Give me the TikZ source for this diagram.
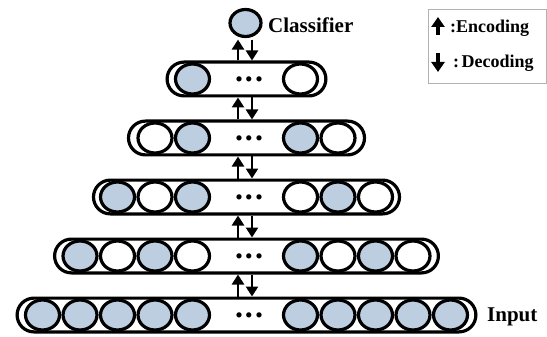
\documentclass[tikz,border=0pt]{standalone}
\usepackage{fontspec}
\setmainfont{Liberation Serif}
\usetikzlibrary{shapes.geometric,arrows.meta}
\definecolor{nodeblue}{RGB}{190,206,225}
\begin{document}
\begin{tikzpicture}[x=1pt,y=-1pt,
  layer/.style={draw,line width=3.2pt,rounded corners=16.9pt,minimum height=33.8pt,inner sep=0pt},
  unit/.style={draw,ellipse,line width=3.2pt,minimum width=34pt,minimum height=30pt,inner sep=0pt},
  on/.style={unit,fill=nodeblue},
  off/.style={unit,fill=white},
  flow/.style={line width=2.8pt,-{Triangle[width=12pt,length=10pt]}},
  legarr/.style={line width=3.2pt,-{Triangle[width=13pt,length=10pt]}},
  lbl/.style={font=\fontsize{21}{21}\selectfont\bfseries,inner sep=0pt},
  leglbl/.style={font=\fontsize{18}{18}\selectfont\bfseries,inner sep=0pt},
  dotsnode/.style={font=\fontsize{32}{32}\selectfont\bfseries,inner sep=0pt}]
\useasboundingbox (0,0) rectangle (547,337);
\def\X{246.5}
% row 5 (input)
\node[layer,minimum width=458.8pt] (r5) at (\X,315) {};
\foreach \k/\s in {0/on,1/on,2/on,3/on,4/on} \node[\s] (c5l\k) at (\X-54-37.5*\k,315) {};
\foreach \k/\s in {0/on,1/on,2/on,3/on,4/on} \node[\s] (c5r\k) at (\X+54+37.5*\k,315) {};
\node[dotsnode] (d5) at (249,315) {.\kern2pt.\kern2pt.};
% row 4
\node[layer,minimum width=383.8pt] (r4) at (\X,256) {};
\foreach \k/\s in {0/off,1/on,2/off,3/on} \node[\s] (c4l\k) at (\X-54-37.5*\k,256) {};
\foreach \k/\s in {0/on,1/off,2/on,3/off} \node[\s] (c4r\k) at (\X+54+37.5*\k,256) {};
\node[dotsnode] (d4) at (249,256) {.\kern2pt.\kern2pt.};
% row 3
\node[layer,minimum width=306pt] (r3) at (\X,197) {};
\foreach \k/\s in {0/on,1/off,2/on} \node[\s] (c3l\k) at (\X-54-37.5*\k,197) {};
\foreach \k/\s in {0/off,1/on,2/off} \node[\s] (c3r\k) at (\X+54+37.5*\k,197) {};
\node[dotsnode] (d3) at (249,197) {.\kern2pt.\kern2pt.};
% row 2
\node[layer,minimum width=236pt] (r2) at (\X,138) {};
\foreach \k/\s in {0/on,1/off} \node[\s] (c2l\k) at (\X-54-37.5*\k,138) {};
\foreach \k/\s in {0/on,1/off} \node[\s] (c2r\k) at (\X+54+37.5*\k,138) {};
\node[dotsnode] (d2) at (249,138) {.\kern2pt.\kern2pt.};
% row 1
\node[layer,minimum width=158.8pt] (r1) at (\X,79) {};
\node[on] (c1l0) at (\X-54,79) {};
\node[off] (c1r0) at (\X+54,79) {};
\node[dotsnode] (d1) at (249,79) {.\kern2pt.\kern2pt.};
% classifier
\node[on,minimum width=31pt,minimum height=27pt] (cls) at (245.5,23) {};
\node[lbl,anchor=base west] (clst) at (268,33) {Classifier};
\node[lbl,anchor=base west] (inp) at (487,321) {Input};
% arrows between layers
\foreach \a/\b in {r5/r4,r4/r3,r3/r2,r2/r1} {
  \draw[flow] ([xshift=-8.5pt]\a.north) -- ([xshift=-8.5pt]\b.south);
  \draw[flow] ([xshift=5.5pt]\b.south) -- ([xshift=5.5pt]\a.north);
}
\draw[flow] ([xshift=-8.5pt]r1.north) -- ([xshift=-7.5pt,yshift=-1.5pt]cls.south);
\draw[flow] ([xshift=6.5pt,yshift=-1.5pt]cls.south) -- ([xshift=5.5pt]r1.north);
% legend
\node[draw=gray!60,line width=0.8pt,minimum width=118pt,minimum height=74pt,inner sep=0pt] (leg) at (487,46) {};
\coordinate (eu1) at (438,35);
\coordinate (eu2) at (438,17);
\coordinate (ed1) at (438,53);
\coordinate (ed2) at (438,72);
\draw[legarr] (eu1) -- (eu2);
\draw[legarr] (ed1) -- (ed2);
\node[leglbl,anchor=base west] (enc) at (450,33) {:Encoding};
\node[leglbl,anchor=base west] (dec) at (453,68) {:\kern2.5pt Decoding};
\end{tikzpicture}
\end{document}
